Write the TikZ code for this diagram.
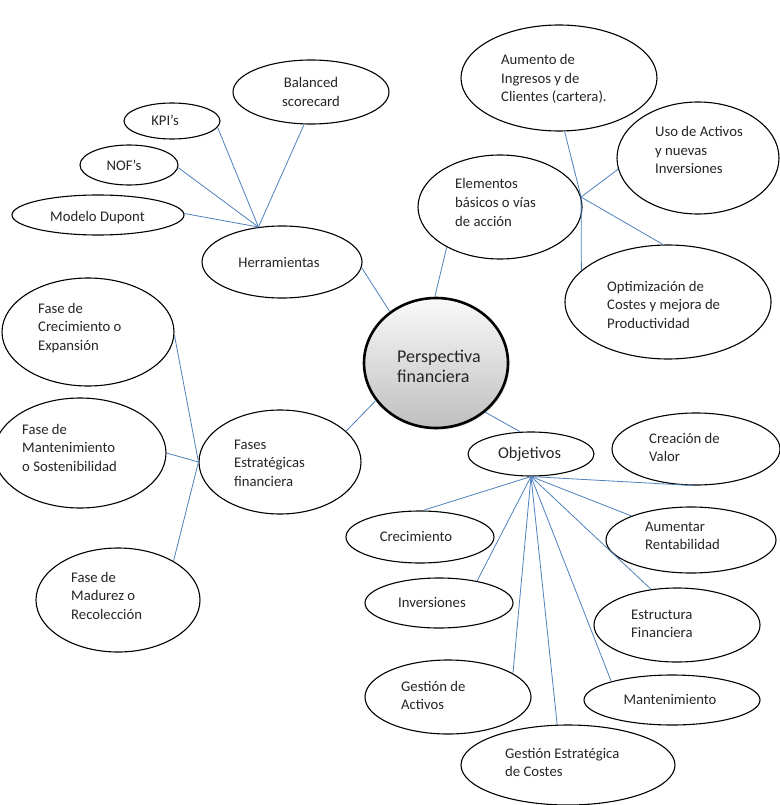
\documentclass[tikz,border=0pt]{standalone}
\usepackage{fontspec}
\setmainfont{Carlito}
\usetikzlibrary{shapes.geometric,shadows}
\definecolor{conncol}{HTML}{4F81BD}
\newcommand{\mlines}[1]{\begin{tabular}[t]{@{}l@{}}#1\end{tabular}}
\newcommand{\mlinesc}[1]{\begin{tabular}[t]{@{}c@{}}#1\end{tabular}}
\begin{document}
\begin{tikzpicture}[x=1pt,y=-1pt,
  ell/.style={draw=black, fill=white, ellipse, line width=1.1pt, inner sep=0pt},
  sz/.style 2 args={minimum width=#1pt, minimum height=#2pt},
  conn/.style={draw=conncol, line width=0.8pt},
  txt/.style={anchor=base west, inner sep=0pt, font=\fontsize{14.7}{18.5}\selectfont, text=black!85},
  ctxt/.style={txt, anchor=base},
  hubtxt/.style={txt, font=\fontsize{18}{20.5}\selectfont}
]
\fill[white] (0,0) rectangle (779,805);
\useasboundingbox (0,0) rectangle (779,805);

% ellipses
\node[ell, sz={156}{64}] (bal) at (311,92) {};
\node[ell, sz={96}{36}] (kpi) at (172,121) {};
\node[ell, sz={98}{40}] (nof) at (129,165) {};
\node[ell, sz={172}{40}] (dup) at (98,215) {};
\node[ell, sz={160}{72}] (herr) at (282,262) {};
\node[ell, sz={196}{106}] (aum) at (559,78) {};
\node[ell, sz={162}{112}] (uso) at (698,158) {};
\node[ell, sz={164}{104}] (elem) at (500,207) {};
\node[ell, sz={206}{114}] (opt) at (668,302) {};
\node[ell, sz={172}{108}] (fcre) at (88,332) {};
\node[ell, sz={172}{110}] (fman) at (80,453) {};
\node[ell, sz={162}{104}] (fases) at (280,462) {};
\node[ell, sz={164}{104}] (fmad) at (118,600) {};
\node[ell, sz={126}{44}] (obj) at (531,454) {};
\node[ell, sz={168}{72}] (crea) at (696,449) {};
\node[ell, sz={148}{52}] (crec) at (420,537) {};
\node[ell, sz={170}{66}] (aren) at (691,540) {};
\node[ell, sz={148}{50}] (inv) at (439,603) {};
\node[ell, sz={166}{74}] (estr) at (677,625) {};
\node[ell, sz={166}{74}] (gact) at (448,697) {};
\node[ell, sz={176}{50}] (mant) at (672,700) {};
\node[ell, sz={214}{80}] (gest) at (568,765) {};
\node[ellipse, draw=black, line width=2.6pt, inner sep=0pt, sz={144}{130},
      top color=gray!5, bottom color=gray!50,
      drop shadow={opacity=0.35, shadow xshift=1.5pt, shadow yshift=-1.5pt}] (pf) at (436,363) {};

% hubs
\coordinate (hh) at (herr.124);
\coordinate (he) at (elem.7);
\coordinate (hf) at (fases.180);
\coordinate (ho) at (obj.-90);

% connectors
\draw[conn] (pf.132.7) -- (herr.-4);
\draw[conn] (hh) -- (dup.1);
\draw[conn] (hh) -- (nof.-3.5);
\draw[conn] (hh) -- (kpi.-8);
\draw[conn] (hh) -- (bal.-102);

\draw[conn] (pf.91) -- (elem.-143);
\draw[conn] (he) -- (aum.-84);
\draw[conn] (he) -- (uso.188.7);
\draw[conn] (he) -- (opt.95);
\draw[conn] (he) -- (opt.160);

\draw[conn] (pf.212) -- (fases.25.5);
\draw[conn] (hf) -- (fcre.-2);
\draw[conn] (hf) -- (fman.0);
\draw[conn] (hf) -- (fmad.35);

\draw[conn] (pf.-45) -- (obj.116.6);
\draw[conn] (ho) -- (crea.-95);
\draw[conn] (ho) -- (crec.84);
\draw[conn] (ho) -- (aren.158);
\draw[conn] (ho) -- (inv.30);
\draw[conn] (ho) -- (estr.126);
\draw[conn] (ho) -- (gact.20);
\draw[conn] (ho) -- (mant.163);
\draw[conn] (ho) -- (gest.105);

% texts
\node[ctxt] (tbal) at (311,88) {\mlinesc{Balanced\\scorecard}};
\node[ctxt] (tkpi) at (165,126) {KPI’s};
\node[ctxt] (tnof) at (124,171) {NOF’s};
\node[ctxt] (tdup) at (97.5,221) {Modelo Dupont};
\node[ctxt] (therr) at (279,267) {Herramientas};
\node[txt] (taum) at (501,65) {\mlines{Aumento de\\Ingresos y de\\Clientes (cartera).}};
\node[txt] (tuso) at (655,137) {\mlines{Uso de Activos\\y nuevas\\Inversiones}};
\node[txt] (telem) at (455,189) {\mlines{Elementos\\básicos o vías\\de acción}};
\node[txt] (topt) at (607,291) {\mlines{Optimización de\\Costes y mejora de\\Productividad}};
\node[hubtxt] (tpf) at (397,362) {\mlines{Perspectiva\\financiera}};
\node[txt] (tfcre) at (38,313) {\mlines{Fase de\\Crecimiento o\\Expansión}};
\node[txt] (tfman) at (22,434) {\mlines{Fase de\\Mantenimiento\\o Sostenibilidad}};
\node[txt] (tfases) at (234,449) {\mlines{Fases\\Estratégicas\\financiera}};
\node[txt] (tfmad) at (71,582) {\mlines{Fase de\\Madurez o\\Recolección}};
\node[ctxt, font=\fontsize{16.4}{19}\selectfont] (tobj) at (529.5,458) {Objetivos};
\node[txt] (tcrea) at (649,443) {\mlines{Creación de\\Valor}};
\node[ctxt] (tcrec) at (416,541) {Crecimiento};
\node[txt] (taren) at (645,531) {\mlines{Aumentar\\Rentabilidad}};
\node[ctxt] (tinv) at (432,607) {Inversiones};
\node[txt] (testr) at (631,619) {\mlines{Estructura\\Financiera}};
\node[txt] (tgact) at (401,691) {\mlines{Gestión de\\Activos}};
\node[ctxt] (tmant) at (670,704) {Mantenimiento};
\node[txt] (tgest) at (505,758) {\mlines{Gestión Estratégica\\de Costes}};
\end{tikzpicture}
\end{document}
